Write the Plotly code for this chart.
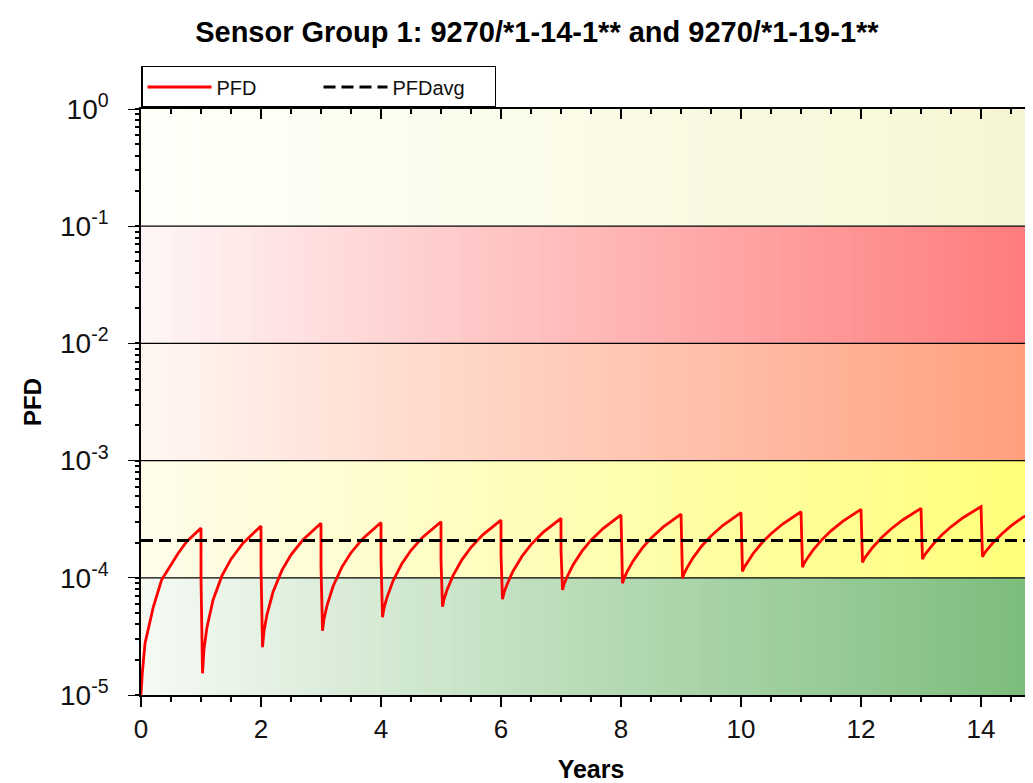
import plotly.graph_objects as go

# ---------------- data ----------------
TEST_YEARS = [1, 2, 3, 4, 5, 6, 7, 8, 9, 10, 11, 12, 13, 14]

CYCLE0_YEARS = [0.0, 0.02, 0.067, 0.206, 0.344, 0.483, 0.62, 0.76]
CYCLE0_PFD = [1.0e-5, 1.5e-5, 2.76e-5, 5.66e-5, 9.6e-5, 1.25e-4, 1.62e-4, 2.03e-4]

# PFD just before each proof test
PEAK_PFD = [2.66e-4, 2.77e-4, 2.92e-4, 2.96e-4, 3.01e-4, 3.11e-4, 3.22e-4,
            3.44e-4, 3.5e-4, 3.6e-4, 3.66e-4, 3.84e-4, 3.91e-4, 4.05e-4]
# kink on the vertical drop at the test instant
KINK_PFD = [1.02e-4, 1.25e-4, 1.26e-4, 1.47e-4, 1.41e-4, 1.57e-4, 1.73e-4,
            None, None, None, None, None, None, None]
# lowest value right after each test
TROUGH_PFD = [1.53e-5, 2.56e-5, 3.53e-5, 4.61e-5, 5.66e-5, 6.57e-5, 7.87e-5,
              8.97e-5, 9.9e-5, 1.13e-4, 1.23e-4, 1.35e-4, 1.44e-4, 1.51e-4]
TROUGH_OFFSET = 0.025
RISE_OFFSETS = [0.05, 0.1, 0.2, 0.35, 0.5, 0.7]
RISE_PFD = [
    [2.46e-5, 3.79e-5, 6.45e-5, 1.043e-4, 1.442e-4, 1.973e-4],
    [3.51e-5, 4.86e-5, 7.56e-5, 1.162e-4, 1.568e-4, 2.109e-4],
    [4.46e-5, 5.78e-5, 8.43e-5, 1.24e-4, 1.637e-4, 2.166e-4],
    [5.52e-5, 6.81e-5, 9.4e-5, 1.328e-4, 1.716e-4, 2.234e-4],
    [6.56e-5, 7.86e-5, 1.044e-4, 1.431e-4, 1.819e-4, 2.335e-4],
    [7.48e-5, 8.78e-5, 1.138e-4, 1.529e-4, 1.919e-4, 2.439e-4],
    [8.81e-5, 1.016e-4, 1.285e-4, 1.689e-4, 2.093e-4, 2.632e-4],
    [9.9e-5, 1.122e-4, 1.386e-4, 1.782e-4, 2.179e-4, 2.707e-4],
    [1.083e-4, 1.215e-4, 1.48e-4, 1.878e-4, 2.275e-4, 2.805e-4],
    [1.22e-4, 1.348e-4, 1.605e-4, 1.991e-4, 2.376e-4, 2.89e-4],
    [1.323e-4, 1.455e-4, 1.72e-4, 2.118e-4, 2.515e-4, 3.045e-4],
    [1.441e-4, 1.571e-4, 1.831e-4, 2.221e-4, 2.611e-4, 3.13e-4],
    [1.533e-4, 1.665e-4, 1.93e-4, 2.328e-4, 2.725e-4, 3.255e-4],
    [1.601e-4, 1.731e-4, 1.99e-4, 2.38e-4, 2.77e-4, 3.289e-4],
]
END_YEAR = 15.0
END_PFD = 3.8e-4

AVG_YEARS = [0, 15]
AVG_PFD = [2.08e-4, 2.08e-4]

Y_TICK_VALUES = [1e-5, 1e-4, 1e-3, 1e-2, 1e-1, 1]
Y_TICK_LABELS = ["10<sup>-5</sup>", "10<sup>-4</sup>", "10<sup>-3</sup>",
                 "10<sup>-2</sup>", "10<sup>-1</sup>", "10<sup>0</sup>"]

# ---------------- build series ----------------
pfd_x = list(CYCLE0_YEARS)
pfd_y = list(CYCLE0_PFD)
for i, yr in enumerate(TEST_YEARS):
    pfd_x.append(yr)
    pfd_y.append(PEAK_PFD[i])
    if KINK_PFD[i] is not None:
        pfd_x.append(yr)
        pfd_y.append(KINK_PFD[i])
    pfd_x.append(yr + TROUGH_OFFSET)
    pfd_y.append(TROUGH_PFD[i])
    for off, v in zip(RISE_OFFSETS, RISE_PFD[i]):
        pfd_x.append(yr + off)
        pfd_y.append(v)
pfd_x.append(END_YEAR)
pfd_y.append(END_PFD)

FONT = "Liberation Sans, Arial, sans-serif"
X_MAX = 15.0

fig = go.Figure()
fig.add_trace(go.Scatter(x=pfd_x, y=pfd_y, mode="lines", name="PFD",
                         line=dict(color="#ff0000", width=2.8)))
fig.add_trace(go.Scatter(x=AVG_YEARS, y=AVG_PFD, mode="lines", name="PFDavg",
                         line=dict(color="black", width=3, dash="12px,6px")))
# invisible trace so the top axis (inside ticks) is drawn
fig.add_trace(go.Scatter(x=[0], y=[1e-5], xaxis="x2", mode="markers",
                         marker=dict(opacity=0), showlegend=False, hoverinfo="skip"))

# ---------------- gradient bands ----------------
BAND_LEFT = [(246, 250, 244), (255, 252, 235), (255, 246, 242), (255, 246, 246), (255, 255, 250)]
BAND_RIGHT = [(122, 188, 122), (255, 255, 120), (255, 158, 124), (255, 122, 122), (246, 246, 212)]
N_STRIPS = 90
shapes = []
for b in range(5):
    l, r = BAND_LEFT[b], BAND_RIGHT[b]
    for s in range(N_STRIPS):
        f = (s + 0.5) / N_STRIPS
        c = tuple(round(l[k] + (r[k] - l[k]) * f) for k in range(3))
        shapes.append(dict(type="rect", xref="x", yref="paper",
                           x0=15 * s / N_STRIPS, x1=15 * (s + 1) / N_STRIPS + 0.02,
                           y0=b / 5, y1=(b + 1) / 5, line=dict(width=0),
                           fillcolor="rgb(%d,%d,%d)" % c, layer="below"))
for b in range(1, 5):
    shapes.append(dict(type="line", xref="paper", yref="paper", x0=0, x1=1,
                       y0=b / 5, y1=b / 5, line=dict(color="black", width=1.3),
                       layer="below"))

fig.update_layout(
    width=1033, height=783,
    margin=dict(l=133, r=0, t=101, b=96, autoexpand=False),
    paper_bgcolor="white", plot_bgcolor="white",
    font=dict(family=FONT, color="#111111"),
    shapes=shapes,
    title=dict(text="<b>Sensor Group 1: 9270/*1-14-1** and 9270/*1-19-1**</b>",
               x=0.512, xanchor="center", y=0.969, yanchor="middle",
               font=dict(size=29, color="black", family=FONT)),
    showlegend=True,
    legend=dict(orientation="h", x=0, xanchor="left", y=1.0734, yanchor="top",
                bgcolor="white", bordercolor="black", borderwidth=1.5,
                itemwidth=64, entrywidth=97, entrywidthmode="pixels",
                font=dict(size=20, family=FONT, color="#111111")),
    xaxis=dict(range=[0, X_MAX], tick0=0, dtick=2, ticks="outside", ticklen=10,
               tickwidth=1.5, tickcolor="black", showline=True, linecolor="black",
               linewidth=1.5, showgrid=False, zeroline=False, automargin=False,
               minor=dict(dtick=0.5, ticks="outside", ticklen=5, tickwidth=1.5,
                          tickcolor="black", showgrid=False),
               tickfont=dict(size=26, family=FONT, color="#111111"),
               title=dict(text="<b>Years</b>", standoff=18,
                          font=dict(size=25, family=FONT, color="black"))),
    xaxis2=dict(overlaying="x", matches="x", side="top", showticklabels=False,
                ticks="inside", ticklen=10, tickwidth=1.5, tickcolor="black",
                tick0=0, dtick=2, showline=True, linecolor="black", linewidth=1.5,
                showgrid=False, zeroline=False, automargin=False,
                minor=dict(dtick=0.5, ticks="inside", ticklen=5, tickwidth=1.5,
                           tickcolor="black", showgrid=False)),
    yaxis=dict(type="log", range=[-5, 0], tickmode="array", tickvals=Y_TICK_VALUES,
               ticktext=Y_TICK_LABELS, ticks="outside", ticklen=11, tickwidth=1.3,
               tickcolor="black", showline=True, linecolor="black", linewidth=1.5,
               showgrid=False, zeroline=False, automargin=False,
               ticklabelstandoff=14,
               minor=dict(dtick="D1", ticks="outside", ticklen=4, tickwidth=1.5,
                          tickcolor="black", showgrid=False),
               tickfont=dict(size=28, family=FONT, color="#111111"),
               title=dict(text="<b>PFD</b>", standoff=12,
                          font=dict(size=24, family=FONT, color="black"))),
)

fig.write_html("out.html")
